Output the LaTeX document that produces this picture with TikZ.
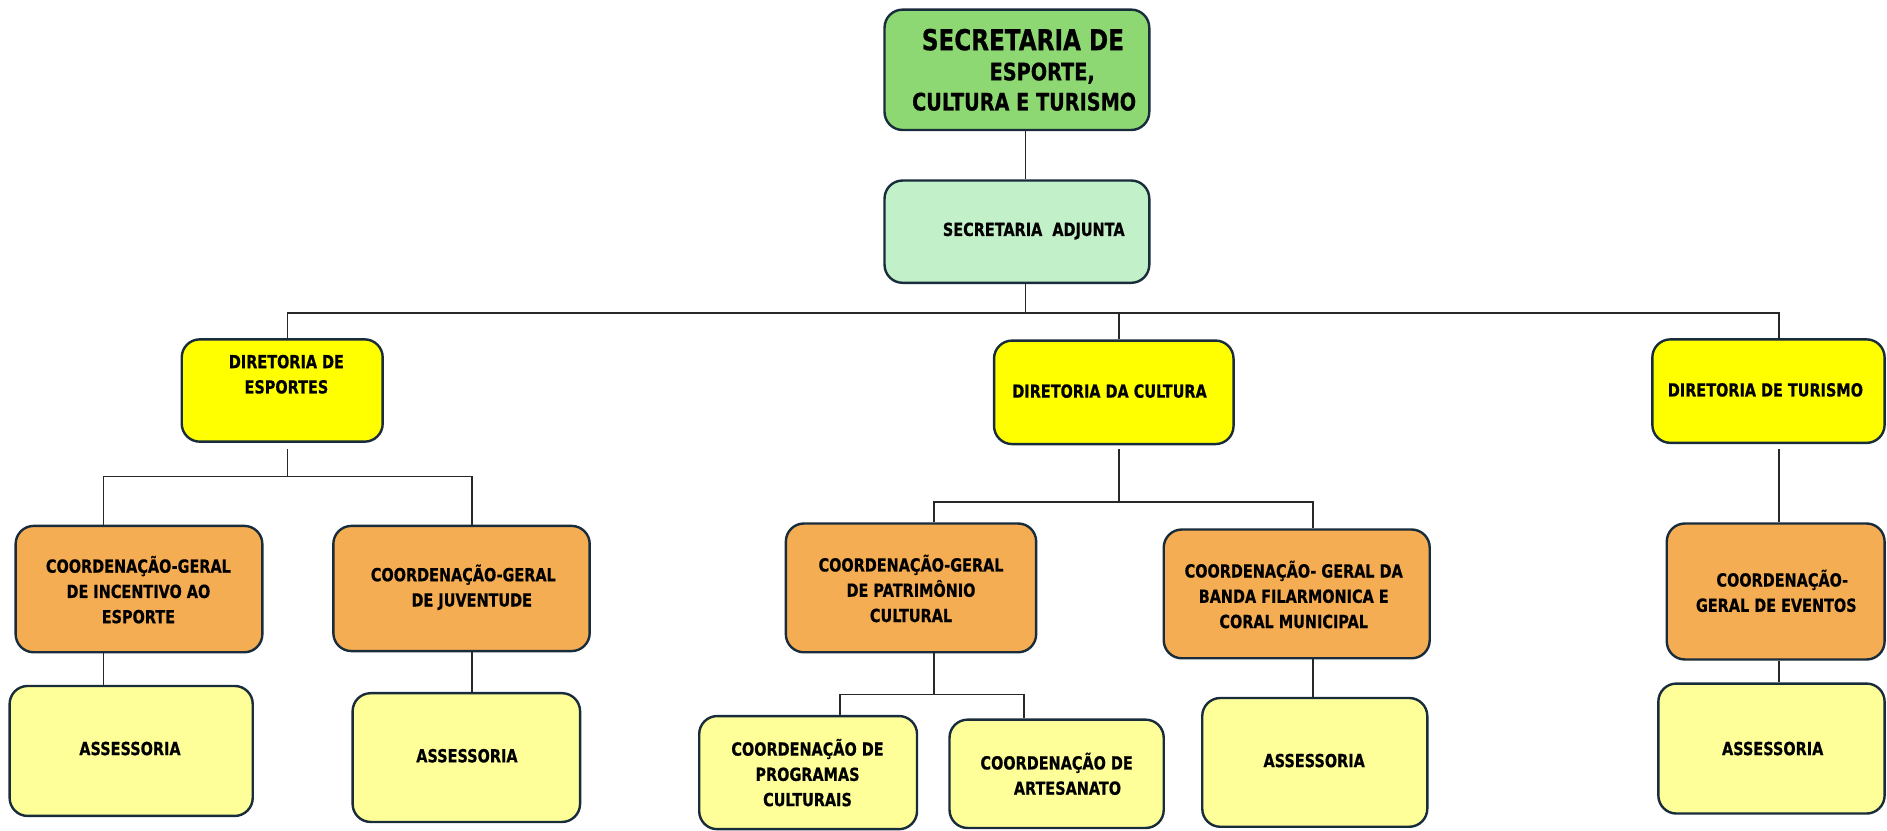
\documentclass[tikz,border=0pt]{standalone}
\usepackage{fontspec}
\newfontfamily\orgfont{DejaVu Sans}[FakeStretch=0.8,FakeBold=0.6]
\definecolor{topgreen}{RGB}{142,216,115}
\definecolor{adjgreen}{RGB}{194,240,200}
\definecolor{diryellow}{RGB}{255,255,0}
\definecolor{coordorange}{RGB}{245,173,84}
\definecolor{lightyellow}{RGB}{255,255,153}
\definecolor{boxborder}{RGB}{24,44,60}
\definecolor{connline}{RGB}{40,40,40}
\newcommand\orgbox[6]{\node[orgshape,fill=#6,minimum width={#4-#2},minimum height={#5-#3}] (#1) at ({(#2+#4)/2},{(#3+#5)/2}) {};}
\begin{document}
\begin{tikzpicture}[x=1pt,y=-1pt,
  orgshape/.style={draw=boxborder,line width=2pt,rounded corners=15pt,inner sep=0pt},
  txt/.style={align=center,inner sep=0pt,font=\orgfont\bfseries\fontsize{15}{21}\selectfont},
  conn/.style={draw=connline,line width=1.4pt}]
\useasboundingbox (0,0) rectangle (1568,690);
% boxes
\orgbox{sec}{735}{8}{955}{108}{topgreen}
\orgbox{adj}{735}{150}{955}{235}{adjgreen}
\orgbox{desp}{151}{282}{318}{367}{diryellow}
\orgbox{dcul}{826}{283}{1025}{369}{diryellow}
\orgbox{dtur}{1373}{282}{1566}{368}{diryellow}
\orgbox{inc}{13}{437}{218}{542}{coordorange}
\orgbox{juv}{277}{437}{490}{541}{coordorange}
\orgbox{pat}{653}{435}{861}{542}{coordorange}
\orgbox{ban}{967}{440}{1188}{547}{coordorange}
\orgbox{eve}{1385}{435}{1566}{548}{coordorange}
\orgbox{as1}{8}{570}{210}{678}{lightyellow}
\orgbox{as2}{293}{576}{482}{683}{lightyellow}
\orgbox{prog}{581}{595}{762}{689}{lightyellow}
\orgbox{art}{789}{598}{967}{688}{lightyellow}
\orgbox{as3}{999}{580}{1186}{687}{lightyellow}
\orgbox{as4}{1378}{568}{1566}{676}{lightyellow}
% texts
\node[txt,font=\orgfont\bfseries\fontsize{24}{25}\selectfont] (t-sec1) at (850,33) {SECRETARIA DE};
\node[txt,font=\orgfont\bfseries\fontsize{20}{25}\selectfont] (t-sec2) at (851,72) {\hspace*{30pt}ESPORTE,\\CULTURA E TURISMO};
\node[txt] (t-adj) at (859,192) {SECRETARIA\ \ ADJUNTA};
\node[txt] (t-desp) at (238,311) {DIRETORIA DE\\ESPORTES};
\node[txt] (t-dcul) at (922,325) {DIRETORIA DA CULTURA};
\node[txt] (t-dtur) at (1467,324) {DIRETORIA DE TURISMO};
\node[txt] (t-inc) at (115,490) {COORDENAÇÃO-GERAL\\DE INCENTIVO AO\\ESPORTE};
\node[txt] (t-juv) at (385,488) {COORDENAÇÃO-GERAL\\\hspace*{14pt}DE JUVENTUDE};
\node[txt] (t-pat) at (757,489) {COORDENAÇÃO-GERAL\\DE PATRIMÔNIO\\CULTURAL};
\node[txt] (t-ban) at (1075,494) {COORDENAÇÃO- GERAL DA\\BANDA FILARMONICA E\\CORAL MUNICIPAL};
\node[txt] (t-eve) at (1476,491) {\hspace*{10pt}COORDENAÇÃO-\\GERAL DE EVENTOS};
\node[txt] (t-as1) at (108,622) {ASSESSORIA};
\node[txt] (t-as2) at (388,628) {ASSESSORIA};
\node[txt] (t-prog) at (671,642) {COORDENAÇÃO DE\\PROGRAMAS\\CULTURAIS};
\node[txt] (t-art) at (878,643) {COORDENAÇÃO DE\\\hspace*{18pt}ARTESANATO};
\node[txt] (t-as3) at (1092,632) {ASSESSORIA};
\node[txt] (t-as4) at (1473,622) {ASSESSORIA};
% connectors
\coordinate (b0) at (852,260);
\coordinate (b1) at (239,396);
\coordinate (b2) at (930,417);
\coordinate (b3) at (776,577);
\draw[conn] (852,0 |- sec.south) -- (852,0 |- adj.north);
\draw[conn] (852,0 |- adj.south) -- (b0);
\draw[conn] (239,0 |- desp.north) |- (b0) -| (930,0 |- dcul.north);
\draw[conn] (b0) -| (1478,0 |- dtur.north);
% esportes
\draw[conn] (239,373) -- (b1);
\draw[conn] (86,0 |- inc.north) |- (b1) -| (392,0 |- juv.north);
\draw[conn] (86,0 |- inc.south) -- (86,0 |- as1.north);
\draw[conn] (392,0 |- juv.south) -- (392,0 |- as2.north);
% cultura
\draw[conn] (930,373) -- (b2);
\draw[conn] (776,0 |- pat.north) |- (b2) -| (1091,0 |- ban.north);
\draw[conn] (776,0 |- pat.south) -- (b3);
\draw[conn] (698,0 |- prog.north) |- (b3) -| (851,0 |- art.north);
\draw[conn] (1091,0 |- ban.south) -- (1091,0 |- as3.north);
% turismo
\draw[conn] (1478,373) -- (1478,0 |- eve.north);
\draw[conn] (1478,0 |- eve.south) -- (1478,0 |- as4.north);
\end{tikzpicture}
\end{document}
